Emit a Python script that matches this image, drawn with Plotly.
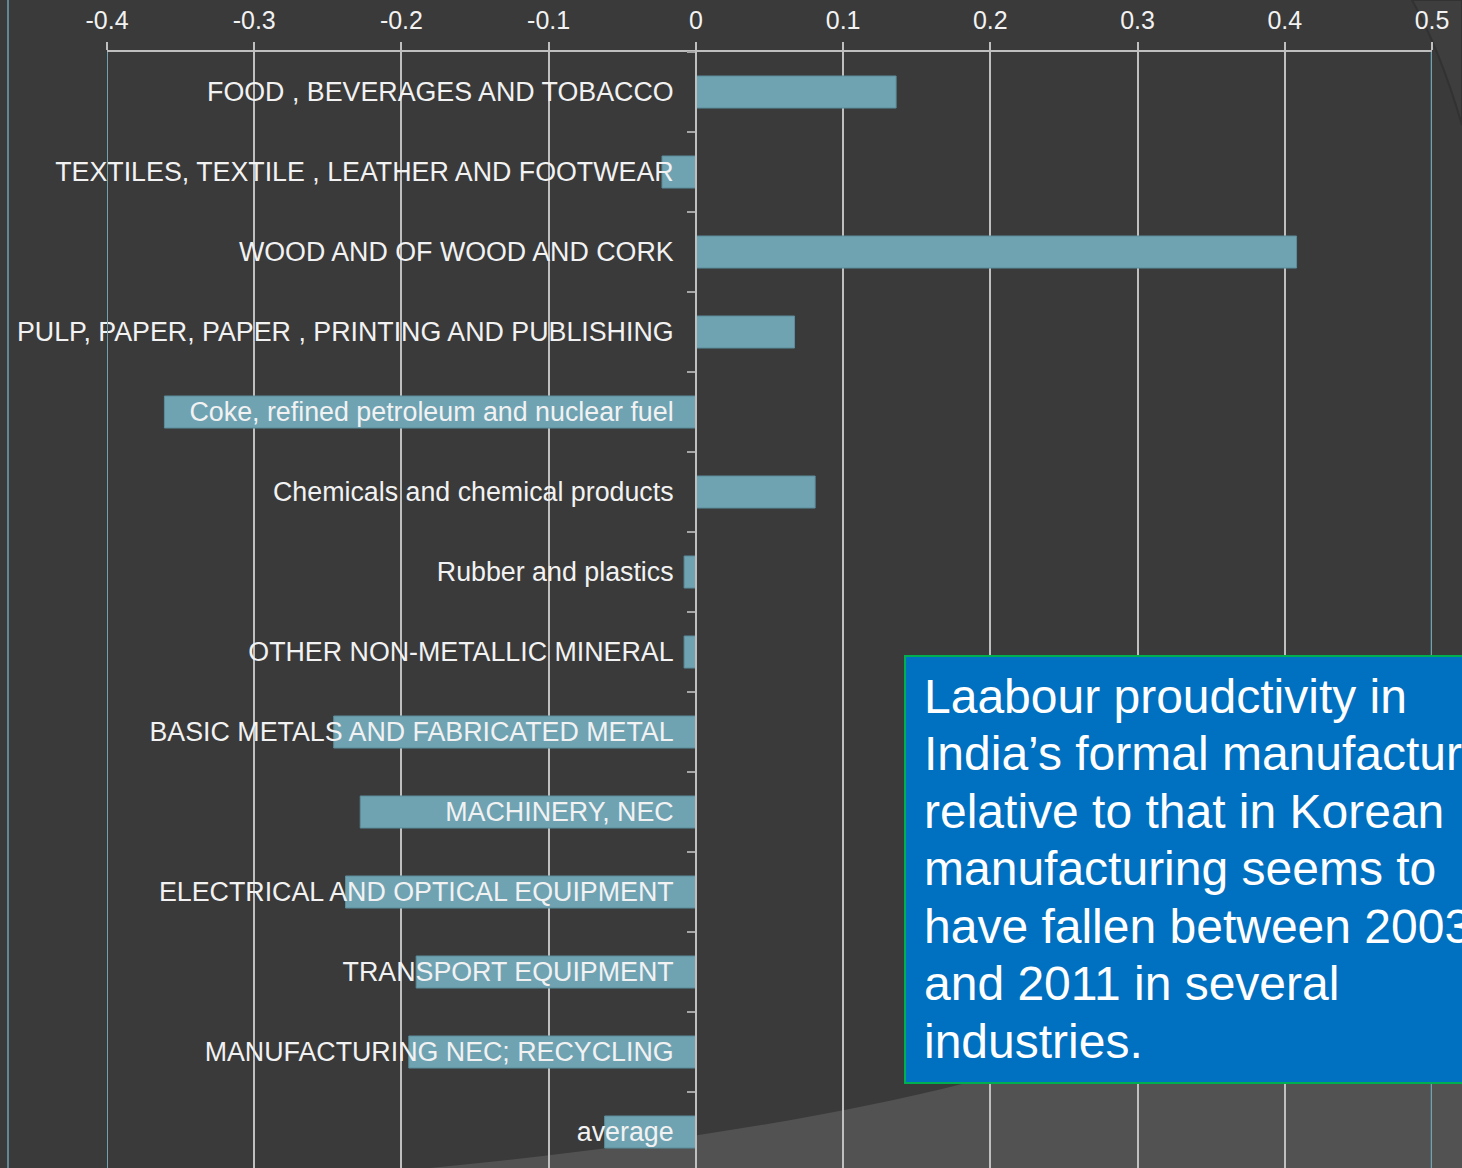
import plotly.graph_objects as go

W, H = 1462, 1168
ML, MR, MT, MB = 107, 30, 52, 0

categories = [
    "FOOD , BEVERAGES AND TOBACCO",
    "TEXTILES, TEXTILE , LEATHER AND FOOTWEAR",
    "WOOD AND OF WOOD AND CORK",
    "PULP, PAPER, PAPER , PRINTING AND PUBLISHING",
    "Coke, refined petroleum and nuclear fuel",
    "Chemicals and chemical products",
    "Rubber and plastics",
    "OTHER NON-METALLIC MINERAL",
    "BASIC METALS AND FABRICATED METAL",
    "MACHINERY, NEC",
    "ELECTRICAL AND OPTICAL EQUIPMENT",
    "TRANSPORT EQUIPMENT",
    "MANUFACTURING NEC; RECYCLING",
    "average",
]
values = [0.136, -0.023, 0.408, 0.067, -0.361, 0.081, -0.008, -0.008,
          -0.246, -0.228, -0.238, -0.190, -0.195, -0.062]

x_tickvals = [-0.4, -0.3, -0.2, -0.1, 0, 0.1, 0.2, 0.3, 0.4, 0.5]
x_ticktext = ["-0.4", "-0.3", "-0.2", "-0.1", "0", "0.1", "0.2", "0.3", "0.4", "0.5"]

note_lines = [
    "Laabour proudctivity in",
    "India\u2019s formal manufacturing",
    "relative to that in Korean",
    "manufacturing seems to",
    "have fallen between 2003",
    "and 2011 in several",
    "industries.",
]

BG = "#3a3a3a"
LIGHT = "#525252"
GRID = "#bfbfbf"
BAR = "#6fa3b2"
FONT = "Liberation Sans, Arial, sans-serif"

pw = W - ML - MR
ph = H - MT - MB


def px(x):
    return (x - ML) / pw


def py(y):
    return (H - MB - y) / ph


def pt(x, y):
    return f"{px(x):.5f},{py(y):.5f}"


fig = go.Figure()
fig.add_trace(go.Bar(
    x=values, y=categories, orientation="h",
    marker=dict(color=BAR, line=dict(color="#5b8d9c", width=1)),
    showlegend=False, hoverinfo="skip",
))

light_path = (f"M {pt(430,1168)} C {pt(620,1150)} {pt(820,1120)} {pt(966,1083)} "
              f"C {pt(1100,1050)} {pt(1300,1000)} {pt(1462,940)} "
              f"L {pt(1462,1168)} Z")
corner_path = (f"M {pt(1412,0)} Q {pt(1440,50)} {pt(1462,125)} L {pt(1462,0)} Z")

shapes = [
    dict(type="path", xref="paper", yref="paper", path=light_path,
         fillcolor=LIGHT, line=dict(width=0), layer="below"),
    dict(type="path", xref="paper", yref="paper", path=corner_path,
         fillcolor="#3e3e3e", line=dict(color="#323232", width=2), layer="below"),
    dict(type="line", xref="paper", yref="paper", x0=px(8), x1=px(8), y0=-0.01, y1=py(0),
         line=dict(color=BAR, width=1.5), layer="above"),
    dict(type="line", xref="x", yref="paper", x0=-0.4, x1=-0.4, y0=-0.01, y1=1,
         line=dict(color=BAR, width=2), layer="above"),
    dict(type="line", xref="x", yref="paper", x0=0.5, x1=0.5, y0=-0.01, y1=1,
         line=dict(color=BAR, width=2.5), layer="above"),
    dict(type="rect", xref="paper", yref="paper", x0=px(905), x1=px(1475),
         y0=py(1083), y1=py(656), fillcolor="#0070c0",
         line=dict(color="#00b050", width=2), layer="above"),
]

LINE_H = 57.5
annotations = []
for i, line in enumerate(note_lines):
    annotations.append(dict(
        xref="paper", yref="paper", x=px(922), y=py(696 + LINE_H * i),
        xanchor="left", yanchor="middle", align="left", showarrow=False,
        text=line, font=dict(family=FONT, size=48, color="#ffffff"),
    ))

fig.update_layout(
    width=W, height=H,
    margin=dict(l=ML, r=MR, t=MT, b=MB, pad=0),
    paper_bgcolor=BG, plot_bgcolor="rgba(0,0,0,0)",
    bargap=0.6,
    shapes=shapes,
    xaxis=dict(
        side="top", range=[-0.4, 0.5], tickvals=x_tickvals, ticktext=x_ticktext,
        tickfont=dict(family=FONT, size=25, color="#f2f2f2"),
        ticks="outside", ticklen=8, tickwidth=2, tickcolor=GRID,
        showline=True, linecolor=GRID, linewidth=2,
        showgrid=True, gridcolor=GRID, gridwidth=2, zeroline=False,
        ticklabelstandoff=3,
    ),
    yaxis=dict(
        type="category", categoryorder="array", categoryarray=categories,
        range=[13.45, -0.5], anchor="free", position=px(696),
        tickson="boundaries", ticks="outside", ticklen=8, tickwidth=2, tickcolor="#a6a6a6",
        showline=True, linecolor=GRID, linewidth=2, showgrid=False, zeroline=False,
        tickfont=dict(family=FONT, size=26.8, color="#f2f2f2"),
        ticklabelstandoff=16,
    ),
    annotations=annotations,
)

fig.write_html("out.html")
